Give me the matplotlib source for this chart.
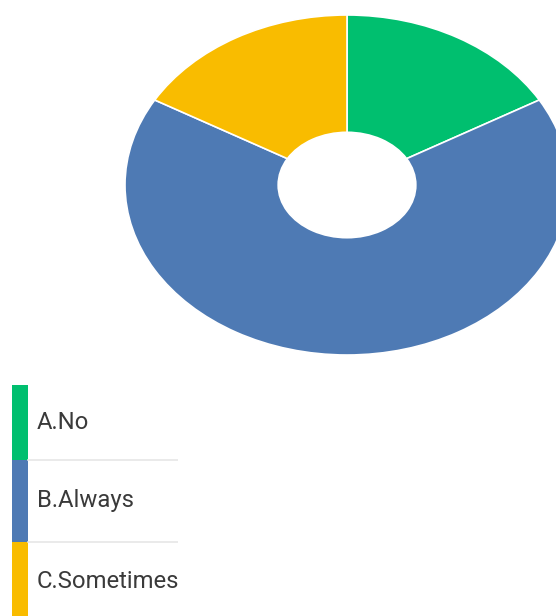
import matplotlib
matplotlib.use('Agg')
import matplotlib.pyplot as plt

plt.rcParams['font.family'] = ['Roboto', 'DejaVu Sans']

labels = ['A.No', 'B.Always', 'C.Sometimes']
values = [1, 4, 1]
colors = ['#00bf6f', '#4e7ab4', '#f9bc00']

W, H = 556, 616
fig = plt.figure(figsize=(W / 100, H / 100), dpi=100)

# donut: stretched horizontally, partly running off the right edge
cx, cy, rx, ry = 347, 185, 222, 170
ax = fig.add_axes([(cx - rx) / W, 1 - (cy + ry) / H, 2 * rx / W, 2 * ry / H])
ax.pie(values, colors=colors, startangle=90, counterclock=False, radius=1,
       wedgeprops=dict(width=0.69, edgecolor='white', linewidth=1.2))
ax.set_aspect('auto')
ax.set_xlim(-1, 1)
ax.set_ylim(-1, 1)
ax.axis('off')

# legend list below, in pixel units
lg = fig.add_axes([0, 0, 178 / W, 1 - 370 / H])
lg.set_xlim(0, 178)
lg.set_ylim(616, 370)
lg.axis('off')
tops = [385, 460, 542]
bottoms = [460, 542, 622]
for lab, col, t, b in zip(labels, colors, tops, bottoms):
    lg.barh((t + b) / 2, 16, height=b - t, left=12, color=col, linewidth=0)
    lg.text(37, (t + b) / 2, lab, fontsize=17.2, color='#3a3a3a',
            va='center', ha='left', clip_on=True)
for t in tops[1:]:
    lg.plot([28, 178], [t, t], color='#e6e6e6', linewidth=1.2)

fig.savefig('out.png', dpi=100)
